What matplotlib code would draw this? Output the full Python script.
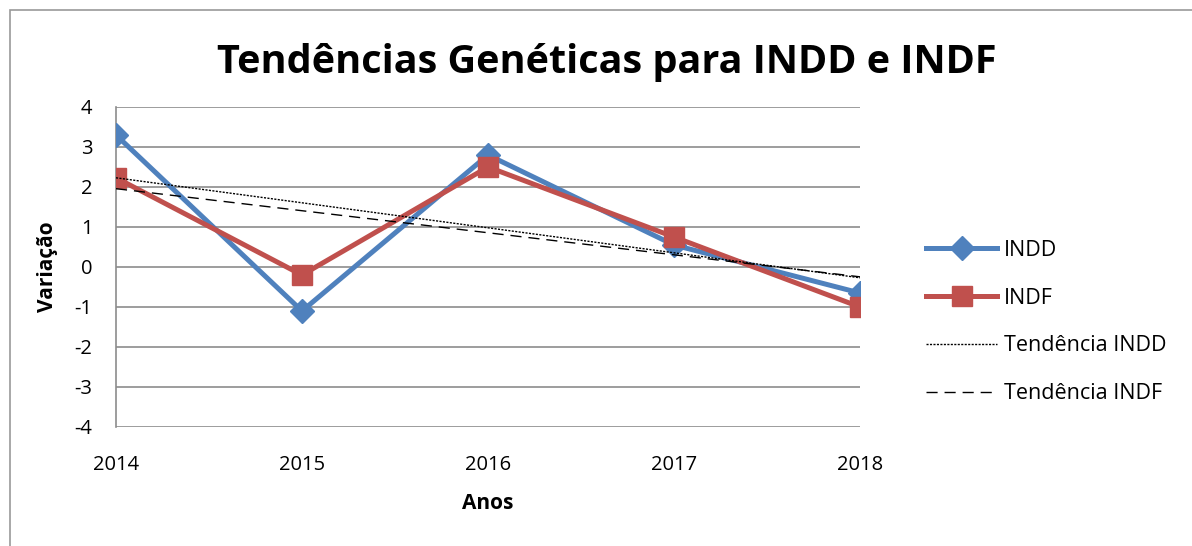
import numpy as np
import matplotlib
matplotlib.use("Agg")
import matplotlib.pyplot as plt
from matplotlib.patches import Rectangle

anos = [2014, 2015, 2016, 2017, 2018]
indd = [3.3, -1.1, 2.8, 0.55, -0.65]
indf = [2.23, -0.2, 2.5, 0.75, -1.0]

BLUE = "#4F81BD"
RED = "#C0504D"
GRID = "#8c8c8c"

plt.rcParams["font.family"] = ["Open Sans", "DejaVu Sans"]
plt.rcParams["axes.unicode_minus"] = False

fig = plt.figure(figsize=(11.92, 5.46), dpi=100)
ax = fig.add_axes([116 / 1192, 1 - 427 / 546, (860 - 116) / 1192, 320 / 546])

# outer chart border
fig.patches.append(Rectangle((10 / 1192, -0.1), 1.2, 1 - 10 / 546 + 0.1, transform=fig.transFigure,
                             fill=False, edgecolor="#999999", linewidth=1.2))

x = np.arange(len(anos))
ax.plot(x, indd, color=BLUE, lw=3.6, marker="D", ms=12, label="INDD", zorder=4)
ax.plot(x, indf, color=RED, lw=3.6, marker="s", ms=14, label="INDF", zorder=5)

# linear trend lines
p1 = np.polyfit(x, indd, 1)
p2 = np.polyfit(x, indf, 1)
ax.plot(x, np.polyval(p1, x), color="black", lw=1.0, ls=(0, (1.5, 1)), label="Tendência INDD", zorder=6)
ax.plot(x, np.polyval(p2, x), color="black", lw=1.0, ls=(0, (8, 5)), label="Tendência INDF", zorder=6)

ax.set_xlim(0, len(anos) - 1)
ax.set_ylim(-4, 4)
ax.set_yticks(range(-4, 5))
ax.set_xticks(x)
ax.set_xticklabels([str(a) for a in anos])
ax.grid(axis="y", color=GRID, lw=1.2)
ax.set_axisbelow(True)
for s in ["top", "right", "bottom"]:
    ax.spines[s].set_visible(False)
ax.spines["left"].set_color(GRID)
ax.spines["left"].set_linewidth(1.2)
ax.tick_params(axis="both", length=0, labelsize=14.5)
ax.tick_params(axis="x", pad=20)
ax.tick_params(axis="y", pad=17)
for lab in ax.get_xticklabels():
    lab.set_clip_on(False)

ax.set_xlabel("Anos", fontsize=15, fontweight="bold", labelpad=13)
ax.set_ylabel("Variação", fontsize=15, fontweight="bold", labelpad=12)

fig.text(607 / 1192, 1 - 62 / 546, "Tendências Genéticas para INDD e INDF", ha="center", va="center",
         fontsize=28.5, fontweight="bold")

fig.legend(loc="center left", bbox_to_anchor=(907 / 1192, 1 - 322 / 546), frameon=False,
           fontsize=15.5, handlelength=3.3, labelspacing=1.25, handletextpad=0.3)

fig.savefig("out.png", dpi=100)
